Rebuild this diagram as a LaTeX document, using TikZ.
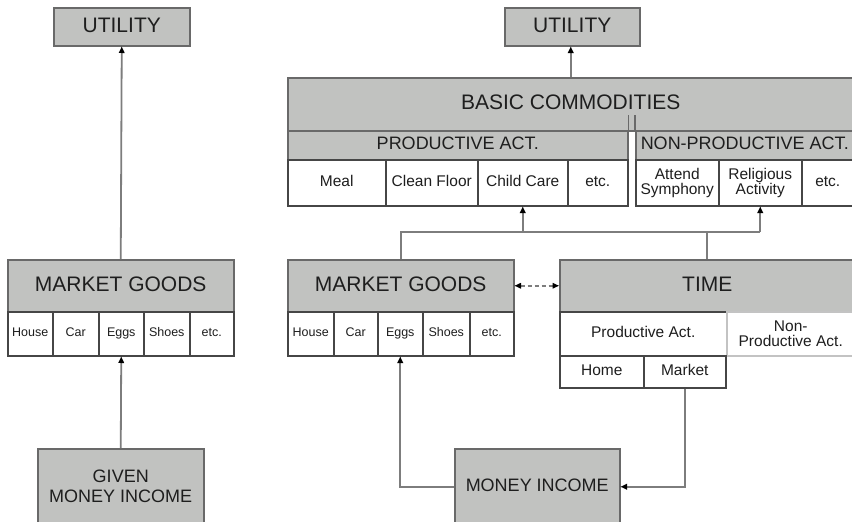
\documentclass[tikz,border=0pt]{standalone}
\usepackage{fontspec}
\setmainfont{Liberation Sans}
\usetikzlibrary{arrows.meta}
\definecolor{gfill}{RGB}{193,194,192}
\definecolor{bcol}{RGB}{105,105,105}
\definecolor{ccol}{RGB}{70,70,70}
\definecolor{lcol}{RGB}{125,125,125}
\definecolor{tcol}{RGB}{30,30,30}
\begin{document}
\begin{tikzpicture}[x=1pt,y=-1pt,
 box/.style={draw=bcol, line width=1.5pt, inner sep=0pt, anchor=north west, text=tcol, align=center},
 gbox/.style={box, fill=gfill},
 cell/.style={box, fill=white, draw=ccol},
 big/.style={font=\fontsize{21}{24}\selectfont, text height=15pt, text depth=4.4pt},
 mid/.style={font=\fontsize{18}{20}\selectfont, text height=13pt, text depth=3.8pt},
 small/.style={font=\fontsize{15.5}{17}\selectfont, text height=11.2pt, text depth=3.3pt},
 tiny/.style={font=\fontsize{12.5}{14}\selectfont, text height=9pt, text depth=2.6pt},
 multi/.style={text height=, text depth=},
 conn/.style={draw=lcol, line width=1.8pt},
 tip/.style={-{Triangle[length=6.5pt,width=5.5pt,color=black]}},
]
\useasboundingbox[fill=white] (0,0) rectangle (852,522);

% ---------- left diagram ----------
\node[gbox,big,minimum width=136pt,minimum height=38pt] (lutil) at (53,7) {UTILITY};
\node[gbox,big,minimum width=226pt,minimum height=52pt] (lmg) at (7,259) {MARKET GOODS};
\node[cell,tiny,minimum width=45pt,minimum height=44pt] (lhouse) at (7,311) {House};
\node[cell,tiny,minimum width=46pt,minimum height=44pt] (lcar) at (52,311) {Car};
\node[cell,tiny,minimum width=45pt,minimum height=44pt] (leggs) at (98,311) {Eggs};
\node[cell,tiny,minimum width=46pt,minimum height=44pt] (lshoes) at (143,311) {Shoes};
\node[cell,tiny,minimum width=44pt,minimum height=44pt] (letc) at (189,311) {etc.};
\node[gbox,mid,multi,minimum width=166pt,minimum height=76pt] (lgiven) at (37,448) {GIVEN\\MONEY INCOME};

% ---------- right diagram ----------
\node[gbox,big,minimum width=135pt,minimum height=38pt] (rutil) at (504,7) {UTILITY};
\node[gbox,big,minimum width=566pt,minimum height=53pt] (basic) at (287,77) {BASIC COMMODITIES};
\node[gbox,mid,minimum width=340pt,minimum height=29pt] (prodh) at (287,130) {PRODUCTIVE ACT.};
\node[gbox,mid,minimum width=218pt,minimum height=29pt] (nprodh) at (635,130) {NON-PRODUCTIVE ACT.};
\draw[draw=bcol,line width=1.5pt] (prodh.north east) -- ++(0,-15);
\draw[draw=bcol,line width=1.5pt] (nprodh.north west) -- ++(0,-15);

\node[cell,small,minimum width=98pt,minimum height=46pt] (meal) at (287,159) {Meal};
\node[cell,small,minimum width=92pt,minimum height=46pt] (floor) at (385,159) {Clean Floor};
\node[cell,small,minimum width=90pt,minimum height=46pt] (child) at (477,159) {Child Care};
\node[cell,small,minimum width=60pt,minimum height=46pt] (petc) at (567,159) {etc.};
\node[cell,small,multi,minimum width=83pt,minimum height=46pt] (symph) at (635,159) {Attend\\[-2pt]Symphony};
\node[cell,small,multi,minimum width=83pt,minimum height=46pt] (relig) at (718,159) {Religious\\[-2pt]Activity};
\node[cell,small,minimum width=52pt,minimum height=46pt] (netc) at (801,159) {etc.};

\node[gbox,big,minimum width=226pt,minimum height=52pt] (rmg) at (287,259) {MARKET GOODS};
\node[cell,tiny,minimum width=46pt,minimum height=44pt] (rhouse) at (287,311) {House};
\node[cell,tiny,minimum width=44pt,minimum height=44pt] (rcar) at (333,311) {Car};
\node[cell,tiny,minimum width=45pt,minimum height=44pt] (reggs) at (377,311) {Eggs};
\node[cell,tiny,minimum width=47pt,minimum height=44pt] (rshoes) at (422,311) {Shoes};
\node[cell,tiny,minimum width=44pt,minimum height=44pt] (retc) at (469,311) {etc.};

\node[gbox,big,minimum width=295pt,minimum height=52pt] (time) at (559,259) {TIME};
\node[cell,small,minimum width=167pt,minimum height=44pt] (pact) at (559,311) {Productive Act.};
\node[cell,small,multi,draw=bcol!40,minimum width=128pt,minimum height=44pt] (npact) at (726,311) {Non-\\[-2pt]Productive Act.};
\node[cell,small,minimum width=84pt,minimum height=32pt] (home) at (559,355) {Home};
\node[cell,small,minimum width=82pt,minimum height=32pt] (market) at (643,355) {Market};

\node[gbox,mid,minimum width=165pt,minimum height=76pt] (money) at (454,448) {MONEY INCOME};

% ---------- connectors ----------
\draw[conn,tip] (lmg.north) -- (lutil.south);
\draw[conn,tip] (lgiven.north) -- (leggs.south);
\draw[conn,tip] (basic.north) -- (basic.north |- rutil.south);

\coordinate (jn) at (0,232);
\draw[conn] (rmg.north) -- (rmg.north |- jn) -- (relig.south |- jn);
\draw[conn] (time.north) -- (time.north |- jn);
\draw[conn,tip] (child.south |- jn) -- (child.south);
\draw[conn,tip] (relig.south |- jn) -- (relig.south);

\draw[conn,line width=1.5pt,dash pattern=on 4pt off 3pt,
  {Triangle[length=6.5pt,width=5.5pt,color=black]}-{Triangle[length=6.5pt,width=5.5pt,color=black]}]
  (rmg.east) -- (time.west);

\draw[conn,tip] (money.west) -| (reggs.south);
\draw[conn,tip] (market.south) |- (money.east);
\end{tikzpicture}
\end{document}
